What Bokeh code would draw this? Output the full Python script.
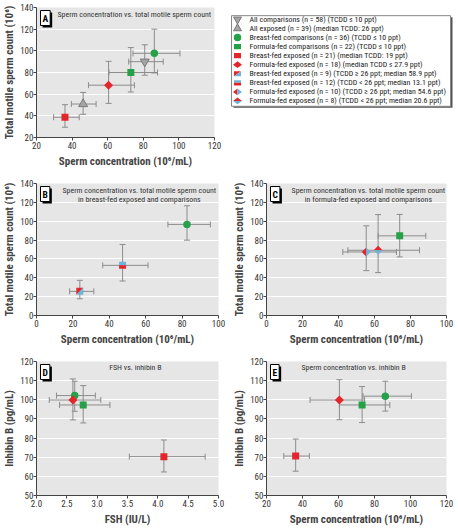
from bokeh.plotting import figure
from bokeh.models import (ColumnDataSource, Whisker, TeeHead, Range1d, Label,
                          FixedTicker, PrintfTickFormatter)
from bokeh.layouts import column, row
from bokeh.embed import file_html
from bokeh.resources import INLINE
from bokeh.core.properties import value

# ---------------- data ----------------
A_groups = ["all_comp", "all_exp", "bf_comp", "ff_comp", "bf_exp", "ff_exp"]
A_x   = [80.8, 46.2, 86.2, 73.0, 36.0, 60.5]
A_xlo = [71.8, 39.6, 74.2, 60.7, 29.6, 49.2]
A_xhi = [91.2, 53.5, 100.6, 88.0, 44.0, 75.0]
A_y   = [90.0, 50.9, 97.7, 80.0, 38.7, 68.3]
A_ylo = [77.5, 41.4, 79.6, 62.0, 29.5, 51.5]
A_yhi = [105.6, 61.6, 120.0, 103.0, 50.3, 90.3]

B_groups = ["bf_comp", "bf_exp_hi", "bf_exp_lo"]
B_x   = [82.7, 23.8, 47.3]
B_xlo = [72.2, 18.2, 36.4]
B_xhi = [95.5, 31.5, 61.3]
B_y   = [96.6, 25.6, 53.2]
B_ylo = [79.9, 17.7, 36.6]
B_yhi = [116.4, 37.3, 75.3]

C_groups = ["ff_comp", "ff_exp_hi", "ff_exp_lo"]
C_x   = [74.0, 55.4, 62.0]
C_xlo = [62.0, 42.4, 45.2]
C_xhi = [88.5, 72.2, 85.0]
C_y   = [84.5, 67.4, 69.2]
C_ylo = [62.1, 47.6, 45.5]
C_yhi = [107.2, 95.1, 107.0]

D_groups = ["bf_comp", "ff_exp", "ff_comp", "bf_exp"]
D_x   = [2.63, 2.60, 2.77, 4.10]
D_xlo = [2.33, 2.21, 2.38, 3.53]
D_xhi = [2.97, 3.06, 3.21, 4.78]
D_y   = [102.2, 99.9, 97.3, 70.3]
D_ylo = [94.0, 89.5, 87.9, 62.3]
D_yhi = [109.7, 110.9, 107.4, 79.0]

E_groups = ["bf_comp", "ff_exp", "ff_comp", "bf_exp"]
E_x   = [86.0, 60.5, 73.1, 36.2]
E_xlo = [73.6, 44.2, 60.5, 29.6]
E_xhi = [100.5, 74.5, 88.5, 43.8]
E_y   = [101.9, 99.9, 97.3, 70.6]
E_ylo = [94.1, 89.6, 88.1, 62.7]
E_yhi = [109.7, 110.5, 106.9, 79.5]

A_xticks = [20, 40, 60, 80, 100, 120]
A_yticks = [20, 40, 60, 80, 100, 120, 140]
BC_xticks = [0, 20, 40, 60, 80, 100]
BC_yticks = [0, 20, 40, 60, 80, 100, 120, 140]
D_xticks = [2.0, 2.5, 3.0, 3.5, 4.0, 4.5, 5.0]
DE_yticks = [50, 60, 70, 80, 90, 100, 110, 120]
E_xticks = [20, 40, 60, 80, 100, 120]

LEGEND_GROUPS = ["all_comp", "all_exp", "bf_comp", "ff_comp", "bf_exp", "ff_exp",
                 "bf_exp_hi", "bf_exp_lo", "ff_exp_hi", "ff_exp_lo"]
LEGEND_LABELS = [
    "All comparisons (n = 58) (TCDD \u2264 10 ppt)",
    "All exposed (n = 39) (median TCDD: 26 ppt)",
    "Breast-fed comparisons (n = 36) (TCDD \u2264 10 ppt)",
    "Formula-fed comparisons (n = 22) (TCDD \u2264 10 ppt)",
    "Breast-fed exposed (n = 21) (median TCDD: 19 ppt)",
    "Formula-fed exposed (n = 18) (median TCDD \u2264 27.9 ppt)",
    "Breast-fed exposed (n = 9) (TCDD \u2265 26 ppt; median 58.9 ppt)",
    "Breast-fed exposed (n = 12) (TCDD < 26 ppt; median 13.1 ppt)",
    "Formula-fed exposed (n = 10) (TCDD \u2265 26 ppt; median 54.6 ppt)",
    "Formula-fed exposed (n = 8) (TCDD < 26 ppt; median 20.6 ppt)",
]

# ---------------- style ----------------
FONT = "Roboto Condensed"
BG = "#e6e6e6"
RED = "#e3262b"
GREEN = "#27a04a"
BLUE = "#6cb4dc"
GREY = "#a4a4a4"
BAR = "#8c8c8c"

SQ = 3.5   # half side of square markers (px)
DI = 4.5   # half diagonal of diamond markers (px)


def draw_markers(p, groups, xs, ys, sx, sy, tri=9):
    """sx, sy: pixels per data unit (sign = screen direction for 'up')."""
    for g, x, y in zip(groups, xs, ys):
        def poly(pts, color):
            p.patch([x + dx / sx for dx, dy in pts], [y + dy / sy for dx, dy in pts],
                    fill_color=color, line_color=None)
        if g == "all_comp":
            p.scatter([x], [y], marker="inverted_triangle", size=tri, fill_color=GREY, line_color="#7a7a7a")
        elif g == "all_exp":
            p.scatter([x], [y], marker="triangle", size=tri, fill_color=GREY, line_color="#7a7a7a")
        elif g == "bf_comp":
            p.scatter([x], [y], marker="circle", size=7.5, fill_color=GREEN, line_color=None)
        elif g == "ff_comp":
            poly([(-SQ, -SQ), (SQ, -SQ), (SQ, SQ), (-SQ, SQ)], GREEN)
        elif g == "bf_exp":
            poly([(-SQ, -SQ), (SQ, -SQ), (SQ, SQ), (-SQ, SQ)], RED)
        elif g == "ff_exp":
            poly([(-DI, 0), (0, DI), (DI, 0), (0, -DI)], RED)
        elif g == "bf_exp_hi":
            poly([(-SQ, SQ), (SQ, SQ), (-SQ, -SQ)], RED)
            poly([(SQ, SQ), (SQ, -SQ), (-SQ, -SQ)], BLUE)
        elif g == "bf_exp_lo":
            poly([(-SQ, 0), (SQ, 0), (SQ, SQ), (-SQ, SQ)], BLUE)
            poly([(-SQ, -SQ), (SQ, -SQ), (SQ, 0), (-SQ, 0)], RED)
        elif g == "ff_exp_hi":
            poly([(0, DI), (-DI, 0), (0, -DI)], RED)
            poly([(0, DI), (DI, 0), (0, -DI)], BLUE)
        elif g == "ff_exp_lo":
            poly([(-DI, 0), (0, DI), (DI, 0)], RED)
            poly([(-DI, 0), (0, -DI), (DI, 0)], BLUE)


def make_panel(fw, fh, bl, br, bt, bb, xr, yr, xticks, yticks, xlabel, ylabel, xfmt=None):
    p = figure(frame_width=fw, frame_height=fh, x_range=Range1d(*xr), y_range=Range1d(*yr),
               output_backend="svg", toolbar_location=None,
               min_border_left=bl, min_border_right=br, min_border_top=bt, min_border_bottom=bb)
    p.background_fill_color = BG
    p.border_fill_color = "white"
    p.outline_line_color = None
    p.xgrid.grid_line_color = None
    p.ygrid.grid_line_color = "white"
    p.ygrid.grid_line_width = 1
    p.xaxis.ticker = FixedTicker(ticks=xticks)
    p.yaxis.ticker = FixedTicker(ticks=yticks)
    if xfmt:
        p.xaxis.formatter = PrintfTickFormatter(format=xfmt)
    for ax in (p.xaxis[0], p.yaxis[0]):
        ax.axis_line_color = "#444444"
        ax.major_tick_line_color = "#444444"
        ax.major_tick_out = 3
        ax.major_tick_in = 0
        ax.minor_tick_line_color = None
        ax.major_label_text_font = FONT
        ax.major_label_text_font_size = "9px"
        ax.major_label_text_color = "#333333"
        ax.major_label_text_line_height = 1.0
        ax.major_label_standoff = 1
        ax.axis_label_text_font = FONT
        ax.axis_label_text_font_style = "bold"
        ax.axis_label_text_font_size = "11px"
        ax.axis_label_text_line_height = 1.0
        ax.axis_label_standoff = 3
    p.yaxis.axis_label_standoff = 1
    p.yaxis.major_label_standoff = 0
    p.xaxis.axis_label = xlabel
    p.yaxis.axis_label = ylabel
    p._sx = fw / (xr[1] - xr[0])
    p._sy = fh / (yr[1] - yr[0])
    return p


def add_data(p, groups, x, xlo, xhi, y, ylo, yhi):
    src = ColumnDataSource(dict(x=x, xlo=xlo, xhi=xhi, y=y, ylo=ylo, yhi=yhi))
    for dim, base, lo, hi in (("width", "y", "xlo", "xhi"), ("height", "x", "ylo", "yhi")):
        wsk = Whisker(source=src, base=base, lower=lo, upper=hi, dimension=dim,
                      line_color=BAR, line_width=1, level="underlay",
                      upper_head=TeeHead(size=6, line_color=BAR, line_width=1),
                      lower_head=TeeHead(size=6, line_color=BAR, line_width=1))
        p.add_layout(wsk)
    draw_markers(p, groups, x, y, p._sx, p._sy)


def add_tag(p, letter, xr, yr, dx=4, dy=3):
    sh = Label(x=xr[0], y=yr[1], x_offset=dx + 2, y_offset=-(dy + 2), text=letter,
               text_font=FONT, text_font_size="9.5px", text_font_style="bold",
               text_color="black", background_fill_color="black",
               text_align="left", text_baseline="top", padding=2)
    bx = Label(x=xr[0], y=yr[1], x_offset=dx, y_offset=-dy, text=letter,
               text_font=FONT, text_font_size="9.5px", text_font_style="bold",
               text_color="black", background_fill_color="white",
               border_line_color="black", border_line_width=1,
               text_align="left", text_baseline="top", padding=2)
    p.add_layout(sh)
    p.add_layout(bx)


def add_title(p, lines, x, y, align="center", dy0=2, x_offset=0):
    for i, t in enumerate(lines):
        p.add_layout(Label(x=x, y=y, x_offset=x_offset, y_offset=-(dy0 + 9.5 * i), text=t,
                           text_font=FONT, text_font_size="7.9px", text_color="#333333",
                           text_align=align, text_baseline="top"))


XL = "Sperm concentration (10\u2076/mL)"
YL = "Total motile sperm count (10\u2076)"
YI = "Inhibin B (pg/mL)"

# Panel A
pA = make_panel(178, 130, 34, 14, 7, 38, (20, 120), (20, 140), A_xticks, A_yticks, XL, YL)
add_data(pA, A_groups, A_x, A_xlo, A_xhi, A_y, A_ylo, A_yhi)
add_tag(pA, "A", (20, 120), (20, 140))
add_title(pA, ["Sperm concentration vs. total motile sperm count"], 20, 140,
          align="left", x_offset=21)

# Legend panel (data units = pixels, origin at panel top-left)
pL = figure(width=228, height=175, x_range=Range1d(0, 228), y_range=Range1d(175, 0),
            output_backend="svg", toolbar_location=None, min_border=0,
            x_axis_type=None, y_axis_type=None)
pL.outline_line_color = None
pL.grid.grid_line_color = None
pL.quad(left=[5], right=[224], top=[13], bottom=[135], fill_color="#555555", line_color=None)
pL.quad(left=[3], right=[222], top=[11], bottom=[133], fill_color="white", line_color="#888888", line_width=1)
leg_y = [16 + 12.2 * i for i in range(len(LEGEND_GROUPS))]
draw_markers(pL, LEGEND_GROUPS, [9] * len(LEGEND_GROUPS), leg_y, 1, -1, tri=8)
pL.text(x=[21] * len(LEGEND_LABELS), y=leg_y, text=LEGEND_LABELS, text_font=value(FONT),
        text_font_size="7.9px", text_baseline="middle", text_align="left", text_color="#222222")

# Panel B
pB = make_panel(182, 132, 33, 10, 8, 35, (0, 100), (0, 140), BC_xticks, BC_yticks, XL, YL)
add_data(pB, B_groups, B_x, B_xlo, B_xhi, B_y, B_ylo, B_yhi)
add_tag(pB, "B", (0, 100), (0, 140))
add_title(pB, ["Sperm concentration vs. total motile sperm count",
               "in breast-fed exposed and comparisons"], 56.5, 140)

# Panel C
pC = make_panel(180, 132, 38, 10, 8, 35, (0, 100), (0, 140), BC_xticks, BC_yticks, XL, YL)
add_data(pC, C_groups, C_x, C_xlo, C_xhi, C_y, C_ylo, C_yhi)
add_tag(pC, "C", (0, 100), (0, 140))
add_title(pC, ["Sperm concentration vs. total motile sperm count",
               "in formula-fed exposed and comparisons"], 56.6, 140)

# Panel D
pD = make_panel(182, 134, 33, 10, 11, 33, (2.0, 5.0), (50, 120), D_xticks, DE_yticks,
                "FSH (IU/L)", YI, xfmt="%.1f")
add_data(pD, D_groups, D_x, D_xlo, D_xhi, D_y, D_ylo, D_yhi)
add_tag(pD, "D", (2.0, 5.0), (50, 120))
add_title(pD, ["FSH vs. inhibin B"], 3.63, 120, dy0=1)

# Panel E
pE = make_panel(180, 134, 38, 10, 11, 33, (20, 120), (50, 120), E_xticks, DE_yticks, XL, YI)
add_data(pE, E_groups, E_x, E_xlo, E_xhi, E_y, E_ylo, E_yhi)
add_tag(pE, "E", (20, 120), (50, 120))
add_title(pE, ["Sperm concentration vs. inhibin B"], 68.4, 120, dy0=1)

layout = column(row(pA, pL), row(pB, pC), row(pD, pE))
open("out.html", "w").write(file_html(layout, INLINE))
